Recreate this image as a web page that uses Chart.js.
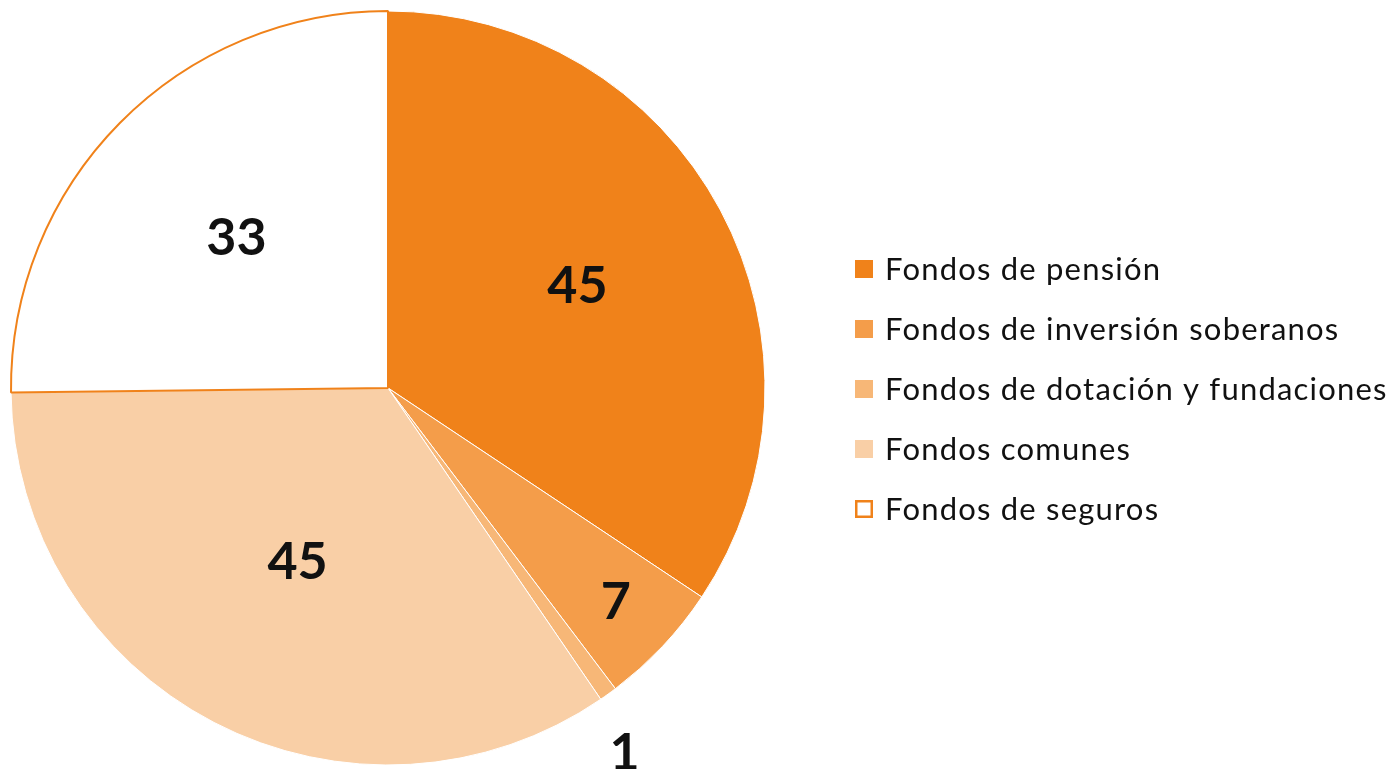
<!DOCTYPE html>
<html>
<head>
<meta charset="utf-8">
<script src="https://cdn.jsdelivr.net/npm/chart.js@4/dist/chart.umd.min.js"></script>
<style>
html,body{margin:0;padding:0;background:#fff;}
#wrap{position:relative;width:1394px;height:769px;}
</style>
</head>
<body>
<div id="wrap"><canvas id="c" width="1394" height="769"></canvas></div>
<script>
const categories = ["Fondos de pensión", "Fondos de inversión soberanos", "Fondos de dotación y fundaciones", "Fondos comunes", "Fondos de seguros"];
const values = [45, 7, 1, 45, 33];
const valueLabels = ["45", "7", "1", "45", "33"];

const fillColors = ["#F0821A", "#F49D4A", "#F7B777", "#F9CFA6", "#FFFFFF"];
const borderColors = ["#FFFFFF", "#FFFFFF", "#FFFFFF", "#FFFFFF", "#F0821A"];
const borderWidths = [1, 1, 1, 1, 2];
const labelRadius = [0.57, 0.83, 1.155, 0.52, 0.565];
const labelAngleShift = [0, 0, 2.8, 0, 0];

const labelPlugin = {
  id: 'sliceLabels',
  afterDatasetsDraw(chart) {
    const ctx = chart.ctx;
    const meta = chart.getDatasetMeta(0);
    ctx.save();
    ctx.font = 'bold 52px Lato, "Open Sans", sans-serif';
    ctx.fillStyle = '#111';
    ctx.textAlign = 'center';
    ctx.textBaseline = 'middle';
    meta.data.forEach((arc, i) => {
      const p = arc.getProps(['x','y','startAngle','endAngle','outerRadius'], true);
      const mid = (p.startAngle + p.endAngle) / 2 + labelAngleShift[i] * Math.PI / 180;
      const r = p.outerRadius * labelRadius[i];
      ctx.fillText(valueLabels[i], p.x + Math.cos(mid) * r, p.y + Math.sin(mid) * r);
    });
    ctx.restore();
  }
};

const legendPlugin = {
  id: 'sideLegend',
  afterDraw(chart) {
    const ctx = chart.ctx;
    ctx.save();
    ctx.font = '31px Lato, "Open Sans", sans-serif';
    ctx.letterSpacing = '1.2px';
    ctx.textBaseline = 'middle';
    ctx.textAlign = 'left';
    categories.forEach((name, i) => {
      const y = 269 + i * 60;
      if (i === 4) {
        ctx.fillStyle = '#fff';
        ctx.fillRect(855, y - 9, 18, 18);
        ctx.strokeStyle = '#F0821A';
        ctx.lineWidth = 2.5;
        ctx.strokeRect(856.25, y - 7.75, 15.5, 15.5);
      } else {
        ctx.fillStyle = fillColors[i];
        ctx.fillRect(855, y - 9, 18, 18);
      }
      ctx.fillStyle = '#111';
      ctx.fillText(name, 885, y + 1);
    });
    ctx.restore();
  }
};

new Chart(document.getElementById('c'), {
  type: 'pie',
  data: {
    labels: categories,
    datasets: [{
      data: values,
      backgroundColor: fillColors,
      borderColor: borderColors,
      borderWidth: borderWidths
    }]
  },
  options: {
    responsive: false,
    animation: false,
    layout: { padding: { left: 10, top: 10, bottom: 3, right: 628 } },
    plugins: {
      legend: { display: false },
      tooltip: { enabled: false }
    }
  },
  plugins: [labelPlugin, legendPlugin]
});
</script>
</body>
</html>
